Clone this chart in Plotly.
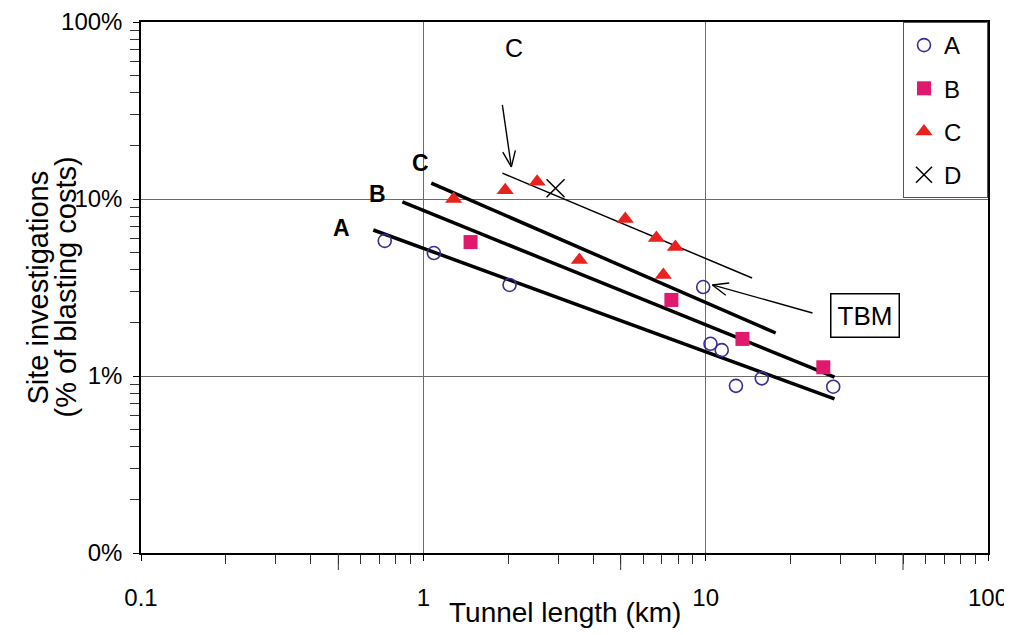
import math
import plotly.graph_objects as go

# ---------------- data ----------------
a_x = [0.73, 1.09, 2.02, 9.8, 10.4, 11.4, 12.8, 15.8, 28.3]
a_y = [5.8, 4.95, 3.27, 3.18, 1.52, 1.40, 0.88, 0.97, 0.87]
b_x = [1.47, 7.56, 13.5, 26.1]
b_y = [5.71, 2.69, 1.62, 1.12]
c_x = [1.28, 1.95, 2.53, 3.57, 5.19, 6.69, 7.08, 7.81]
c_y = [10.0, 11.2, 12.5, 4.52, 7.71, 6.02, 3.72, 5.35]
d_x = [2.94]
d_y = [11.5]

# trend lines (end points)
line_a_x = [0.665, 28.6]
line_a_y = [6.68, 0.742]
line_b_x = [0.843, 28.6]
line_b_y = [9.62, 0.987]
line_c_x = [1.067, 17.7]
line_c_y = [12.3, 1.75]
line_c2_x = [1.905, 14.6]
line_c2_y = [14.0, 3.58]

# arrows (tail, tip)
arrow1_x = [1.905, 2.05]
arrow1_y = [34.0, 15.2]
arrow2_x = [23.9, 10.56]
arrow2_y = [2.27, 3.27]

x_ticks = [0.1, 1, 10, 100]
x_tick_text = ["0.1", "1", "10", "100"]
y_ticks = [0.1, 1, 10, 100]
y_tick_text = ["0%", "1%", "10%", "100%"]
minor_vals = [m * 10 ** e for e in (-1, 0, 1) for m in range(2, 10)]
long_minor = [0.5, 5, 50]
y_title_lines = ["Site investigations", "(% of blasting costs)"]

FONT = "Liberation Sans, Arial, Helvetica, sans-serif"
# the page body has an 8px margin, so the figure is sized / offset for it
W, H = 1004, 627
ML, MR, MT, MB = 133, 24, 14, 82
PW, PH = W - ML - MR, H - MT - MB
NB = "\u00a0"

fig = go.Figure()

# trend lines
for lx, ly, w in [(line_a_x, line_a_y, 3.5), (line_b_x, line_b_y, 3.5),
                  (line_c_x, line_c_y, 3.5), (line_c2_x, line_c2_y, 1.5)]:
    fig.add_trace(go.Scatter(x=lx, y=ly, mode="lines", showlegend=False,
                             line=dict(color="black", width=w), hoverinfo="skip"))


def head(xs, ys, length=17, ang=22):
    sx, sy = PW / 3, PH / 3
    bx, by = math.log10(xs[0]) * sx, -math.log10(ys[0]) * sy
    tx, ty = math.log10(xs[1]) * sx, -math.log10(ys[1]) * sy
    dx, dy = bx - tx, by - ty
    n = math.hypot(dx, dy)
    ux, uy = dx / n, dy / n
    hx, hy = [], []
    for s in (1, -1):
        a = math.radians(ang * s)
        rx = ux * math.cos(a) - uy * math.sin(a)
        ry = ux * math.sin(a) + uy * math.cos(a)
        hx.append(10 ** ((tx + length * rx) / sx))
        hy.append(10 ** (-(ty + length * ry) / sy))
    return [hx[0], xs[1], hx[1]], [hy[0], ys[1], hy[1]]


for ax_, ay_ in [(arrow1_x, arrow1_y), (arrow2_x, arrow2_y)]:
    fig.add_trace(go.Scatter(x=ax_, y=ay_, mode="lines", showlegend=False,
                             line=dict(color="black", width=1.4), hoverinfo="skip"))
    hx, hy = head(ax_, ay_)
    fig.add_trace(go.Scatter(x=hx, y=hy, mode="lines", showlegend=False,
                             line=dict(color="black", width=1.4), hoverinfo="skip"))

# data series
fig.add_trace(go.Scatter(x=a_x, y=a_y, mode="markers", name="A" + NB * 3, legendgroup="A",
                         marker=dict(symbol="circle-open", size=13, color="#3d2b96",
                                     line=dict(width=1.6, color="#3d2b96"))))
fig.add_trace(go.Scatter(x=b_x, y=b_y, mode="markers", name="B" + NB * 3, legendgroup="B",
                         marker=dict(symbol="square", size=14, color="#e0186e")))
fig.add_trace(go.Scatter(x=c_x, y=c_y, mode="markers", name="C" + NB * 3, legendgroup="C",
                         marker=dict(symbol="triangle-up", size=15, color="#e8221e")))
fig.add_trace(go.Scatter(x=d_x, y=d_y, mode="markers", name="D" + NB * 3, legendgroup="D",
                         marker=dict(symbol="x-thin-open", size=18, color="black",
                                     line=dict(width=1.5, color="black"))))

axis_common = dict(
    type="log", range=[-1, 2], showgrid=True, gridcolor="#6f6a6a", gridwidth=1,
    showline=True, linecolor="black", linewidth=1.5, mirror=True,
    ticks="outside", ticklen=6, tickcolor="black", tickwidth=1,
    tickmode="array", zeroline=False, automargin=False,
    tickfont=dict(family=FONT, size=24, color="black"),
    minor=dict(ticks="outside", ticklen=9, tickcolor="#333", tickwidth=1,
               tickmode="array", tickvals=minor_vals, showgrid=False),
)

fig.update_xaxes(**axis_common, tickvals=x_ticks, ticktext=x_tick_text,
                 ticklabelstandoff=16)
fig.update_yaxes(**axis_common, tickvals=y_ticks, ticktext=y_tick_text,
                 ticklabelstandoff=6)

shapes = []
for v in long_minor:
    shapes.append(dict(type="line", xref="x", yref="paper", ysizemode="pixel",
                       yanchor=0, x0=v, x1=v, y0=0, y1=-17,
                       line=dict(color="#333", width=1)))

L = math.log10
annotations = [
    dict(text="Tunnel length (km)", xref="paper", yref="paper", x=0.5,
         y=-(612 - 553) / PH, xanchor="center", yanchor="middle", showarrow=False,
         font=dict(family=FONT, size=28, color="black")),
    dict(text="C", x=L(2.10), y=L(71.3), xref="x", yref="y", showarrow=False,
         font=dict(family=FONT, size=25, color="black")),
    dict(text="<b>A</b>", x=L(0.513), y=L(6.86), xref="x", yref="y", showarrow=False,
         font=dict(family=FONT, size=23, color="black")),
    dict(text="<b>B</b>", x=L(0.687), y=L(10.67), xref="x", yref="y", showarrow=False,
         font=dict(family=FONT, size=23, color="black")),
    dict(text="<b>C</b>", x=L(0.976), y=L(15.96), xref="x", yref="y", showarrow=False,
         font=dict(family=FONT, size=23, color="black")),
    dict(text="TBM", x=L(36.8), y=L(2.21), xref="x", yref="y", showarrow=False,
         bordercolor="black", borderwidth=1.5, borderpad=6, bgcolor="white",
         font=dict(family=FONT, size=26, color="black")),
]
for txt, px in zip(y_title_lines, [37, 65]):
    annotations.append(dict(text=txt, xref="paper", yref="paper",
                            x=-(141 - px) / PW, y=0.5, xanchor="center", yanchor="middle",
                            textangle=-90, showarrow=False,
                            font=dict(family=FONT, size=29, color="black")))

fig.update_layout(
    width=W, height=H,
    margin=dict(l=ML, r=MR, t=MT, b=MB, autoexpand=False),
    paper_bgcolor="white", plot_bgcolor="white",
    font=dict(family=FONT, color="black"),
    shapes=shapes, annotations=annotations,
    legend=dict(x=1, xanchor="right", y=1, yanchor="top", bgcolor="white",
                bordercolor="#555", borderwidth=1, tracegroupgap=9,
                font=dict(family=FONT, size=24, color="black")),
)

fig.write_html("out.html")
